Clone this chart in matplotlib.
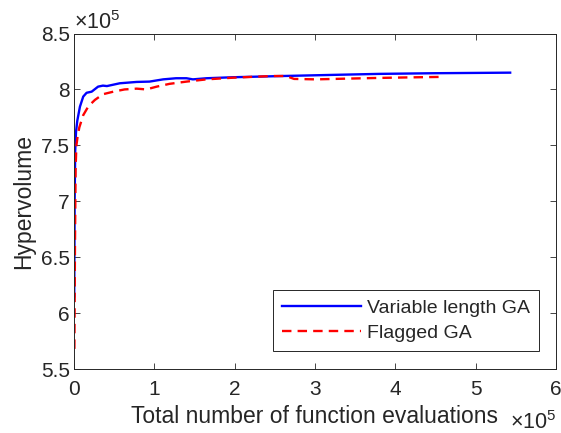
import matplotlib
matplotlib.use("Agg")
import matplotlib.pyplot as plt
from matplotlib.ticker import FuncFormatter

# function evaluations and hypervolume
vlga_evals = [300, 800, 1500, 2500, 4100, 7400, 11500, 15700, 22000, 30000, 36000,
              41000, 57000, 78000, 94000, 111000, 127000, 140000, 148000, 165000,
              198000, 260000, 322000, 380000, 450000, 543000]
vlga_hv = [615000, 700000, 745000, 762000, 772000, 784600, 793600, 797000, 798000,
           802500, 803400, 803000, 805500, 806700, 807000, 809000, 810000, 810000,
           809000, 810000, 810900, 812000, 813000, 813900, 814500, 815000]

flag_evals = [500, 1200, 2000, 3000, 4500, 6600, 11500, 18000, 26000, 36000, 49000,
              63000, 78000, 90000, 103000, 119000, 140000, 165000, 198000, 247000,
              264000, 274000, 301000, 342000, 380000, 420000, 457000]
flag_hv = [568000, 660000, 730000, 750000, 758000, 766000, 777000, 785000, 790600,
           795700, 798000, 800000, 800700, 800000, 802500, 805000, 807000, 809000,
           810500, 812000, 812000, 809400, 809000, 809700, 810300, 810800, 811200]

labels = ["Variable length GA", "Flagged GA"]
xticks = [0, 100000, 200000, 300000, 400000, 500000, 600000]
yticks = [550000, 600000, 650000, 700000, 750000, 800000, 850000]

plt.rcParams['font.family'] = ['Liberation Sans', 'DejaVu Sans']
plt.rcParams['mathtext.fontset'] = 'custom'
plt.rcParams['mathtext.rm'] = 'Liberation Sans'
plt.rcParams['mathtext.it'] = 'Liberation Sans'
dark = '#262626'

fig = plt.figure(figsize=(5.61, 4.33), dpi=100)
ax = fig.add_axes([0.1319, 0.1478, 0.9910 - 0.1319, 0.9226 - 0.1478])

ax.plot(vlga_evals, vlga_hv, color='#0000ff', lw=1.7, label=labels[0])
ax.plot(flag_evals, flag_hv, color='#ff0000', lw=1.7, ls=(0, (4, 2.6)), label=labels[1])

ax.set_xlim(0, 600000)
ax.set_ylim(550000, 850000)
ax.set_xticks(xticks)
ax.set_yticks(yticks)
fmt = FuncFormatter(lambda v, p: "%g" % (v / 1e5))
ax.xaxis.set_major_formatter(fmt)
ax.yaxis.set_major_formatter(fmt)

ax.tick_params(direction='in', top=True, right=True, length=4, width=0.6,
               colors=dark, labelsize=15)
ax.tick_params(axis='x', pad=8)
ax.tick_params(axis='y', pad=3)
for s in ax.spines.values():
    s.set_color(dark)
    s.set_linewidth(0.7)

ax.set_xlabel("Total number of function evaluations", fontsize=16.5, color=dark, labelpad=4)
ax.set_ylabel("Hypervolume", fontsize=16.5, color=dark, labelpad=4)

ax.text(0.0, 1.012, r"$\times10^{5}$", transform=ax.transAxes, fontsize=15.5,
        color=dark, ha='left', va='baseline')
ax.text(1.0, -0.18, r"$\times10^{5}$", transform=ax.transAxes, fontsize=15.5,
        color=dark, ha='right', va='baseline')

leg = ax.legend(loc='lower right', bbox_to_anchor=(0.965, 0.054), borderaxespad=0,
                fontsize=14, handlelength=4.1, handletextpad=0.3, labelspacing=0.4,
                borderpad=0.45, fancybox=False, framealpha=1)
leg.get_frame().set_edgecolor(dark)
leg.get_frame().set_linewidth(0.7)
for t in leg.get_texts():
    t.set_color(dark)

fig.savefig("out.png", dpi=100)
